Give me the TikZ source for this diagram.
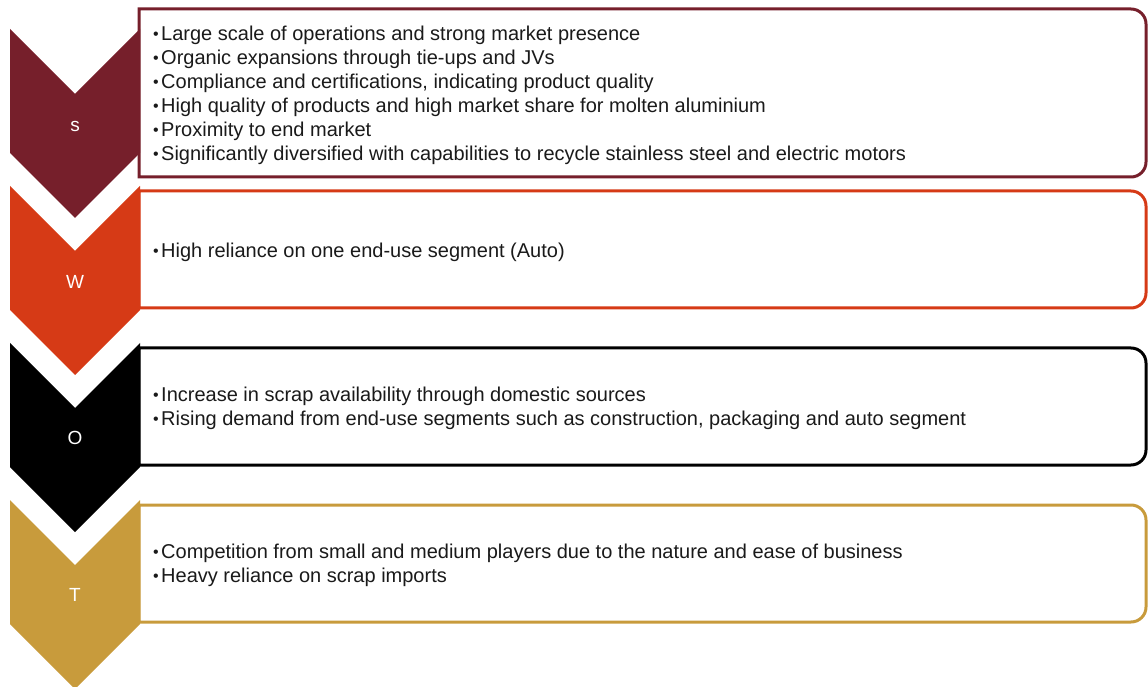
\documentclass[tikz,border=0pt]{standalone}
\usepackage{fontspec}
\setmainfont{Liberation Sans}
\usetikzlibrary{positioning}
\definecolor{sred}{HTML}{761F2B}
\definecolor{worange}{HTML}{D63A16}
\definecolor{tgold}{HTML}{C89B3C}
\definecolor{txtgray}{HTML}{1A1A1A}
\newcommand{\bul}{\makebox[8pt][l]{\fontsize{16}{16}\selectfont\raisebox{1pt}{•}}}

\begin{document}
\begin{tikzpicture}[x=1pt,y=1pt,
  letter/.style={text=white,font=\fontsize{19}{19}\selectfont},
  items/.style={anchor=west,align=left,inner sep=0pt,text=txtgray,font=\fontsize{20}{24}\selectfont},
  frame/.style={line width=3pt,fill=white}]
\useasboundingbox (0,0) rectangle (1148,686);

\draw[frame,draw=sred] (139,509) -- (139,677) -- (1131,677) arc[start angle=90,end angle=0,radius=15] -- (1146,524) arc[start angle=0,end angle=-90,radius=15] -- cycle;
\draw[frame,draw=worange] (139,378) -- (139,495) -- (1131,495) arc[start angle=90,end angle=0,radius=15] -- (1146,393) arc[start angle=0,end angle=-90,radius=15] -- cycle;
\draw[frame,draw=black] (139,221) -- (139,338) -- (1131,338) arc[start angle=90,end angle=0,radius=15] -- (1146,236) arc[start angle=0,end angle=-90,radius=15] -- cycle;
\draw[frame,draw=tgold] (139,64) -- (139,181) -- (1131,181) arc[start angle=90,end angle=0,radius=15] -- (1146,79) arc[start angle=0,end angle=-90,radius=15] -- cycle;

\fill[sred] (10,657) -- (75,592) -- (140,657) -- (140,533) -- (75,468) -- (10,533) -- cycle;
\fill[worange] (10,500) -- (75,435) -- (140,500) -- (140,376) -- (75,311) -- (10,376) -- cycle;
\fill[black] (10,343) -- (75,278) -- (140,343) -- (140,219) -- (75,154) -- (10,219) -- cycle;
\fill[tgold] (10,186) -- (75,121) -- (140,186) -- (140,62) -- (75,-3) -- (10,62) -- cycle;

\node[letter] (S) at (75,560) {s};
\node[letter] (W) at (75,404) {W};
\node[letter] (O) at (75,248) {O};
\node[letter] (T) at (75,91) {T};

\node[items] (Stxt) at (153,591) {\bul Large scale of operations and strong market presence\\
  \bul Organic expansions through tie-ups and JVs\\
  \bul Compliance and certifications, indicating product quality\\
  \bul High quality of products and high market share for molten aluminium\\
  \bul Proximity to end market\\
  \bul Significantly diversified with capabilities to recycle stainless steel and electric motors};
\node[items] (Wtxt) at (153,434) {\bul High reliance on one end-use segment (Auto)};
\node[items] (Otxt) at (153,278) {\bul Increase in scrap availability through domestic sources\\
  \bul Rising demand from end-use segments such as construction, packaging and auto segment};
\node[items] (Ttxt) at (153,121) {\bul Competition from small and medium players due to the nature and ease of business\\
  \bul Heavy reliance on scrap imports};
\end{tikzpicture}
\end{document}
